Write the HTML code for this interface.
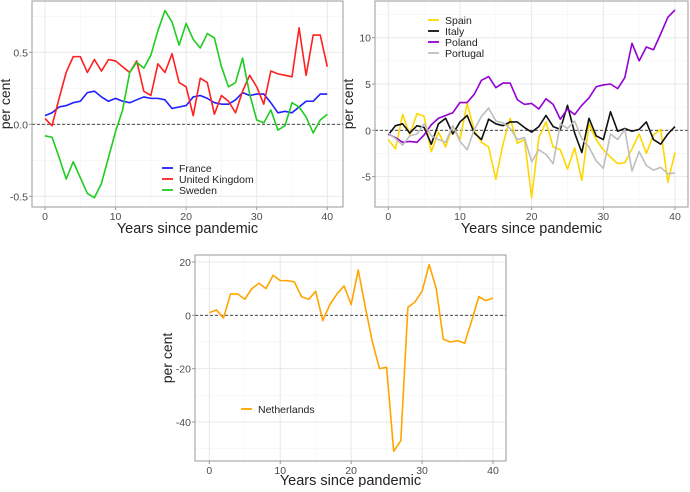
<!DOCTYPE html>
<html><head><meta charset="utf-8"><style>
body{margin:0;background:#fff;font-family:"Liberation Sans",sans-serif}
svg text{font-family:"Liberation Sans",sans-serif}
</style></head><body>
<svg id="s" width="690" height="487"></svg>
<script>
const years=[];for(let i=0;i<=40;i++)years.push(i);
const france=[0.06,0.08,0.12,0.13,0.15,0.16,0.22,0.23,0.19,0.16,0.18,0.16,0.15,0.17,0.19,0.18,0.18,0.17,0.11,0.12,0.13,0.19,0.20,0.18,0.15,0.14,0.14,0.17,0.22,0.20,0.21,0.21,0.15,0.08,0.09,0.08,0.12,0.16,0.16,0.21,0.21];
const uk=[0.04,-0.01,0.18,0.36,0.47,0.47,0.36,0.45,0.37,0.45,0.44,0.40,0.36,0.44,0.23,0.20,0.42,0.36,0.49,0.29,0.26,0.06,0.32,0.29,0.07,0.20,0.16,0.08,0.23,0.34,0.26,0.14,0.37,0.35,0.34,0.33,0.67,0.34,0.62,0.62,0.40];
const sweden=[-0.08,-0.09,-0.23,-0.38,-0.26,-0.37,-0.48,-0.51,-0.41,-0.23,-0.05,0.10,0.36,0.43,0.39,0.48,0.65,0.79,0.71,0.55,0.70,0.59,0.53,0.63,0.60,0.40,0.26,0.29,0.46,0.21,0.03,0.01,0.10,-0.04,-0.01,0.15,0.12,0.05,-0.06,0.03,0.07];
const spain=[-1.0,-2.0,1.7,-0.5,1.8,1.5,-2.3,-0.2,-1.8,0.5,-1.0,2.9,0.0,-1.3,-1.8,-5.3,-1.5,1.3,-1.4,-1.0,-7.3,-0.8,0.9,-1.8,-2.1,-4.2,-1.9,-5.4,0.7,-1.0,-2.1,-2.9,-3.6,-3.5,-2.0,-0.4,-2.5,-0.5,0.1,-5.6,-2.4];
const italy=[-0.5,0.5,0.7,-0.3,0.5,0.3,-1.5,0.7,1.3,-0.4,0.9,1.6,-0.3,-1.0,1.2,0.7,0.5,0.9,0.9,0.3,-0.2,0.4,1.6,0.4,0.1,2.7,-0.3,-2.4,1.3,-0.6,-1.0,2.0,-0.1,0.2,-0.1,0.1,0.9,-1.0,-1.5,-0.4,0.4];
const poland=[-0.4,-0.8,-1.3,-1.2,-1.3,-0.5,0.6,1.3,1.6,1.9,3.0,3.0,3.9,5.4,5.8,4.6,5.1,5.1,3.3,2.8,2.9,2.3,3.4,2.8,1.2,2.3,1.7,2.7,3.5,4.7,4.9,5.0,4.5,5.7,9.4,7.5,9.0,8.7,10.4,12.2,13.0];
const portugal=[-0.3,-0.9,-1.6,-0.6,-0.4,0.7,-0.6,-1.0,-1.3,0.5,-1.2,-2.1,0.1,1.5,2.4,1.0,0.8,0.2,-1.0,-0.8,-3.4,-2.1,-2.6,-3.6,0.7,0.2,1.0,-0.9,-1.8,-3.3,-4.1,-0.4,-1.0,0.1,-4.4,-2.3,-3.8,-4.3,-4.0,-4.7,-4.6];
const netherlands=[1,2,-1,8,8,6,10,12,10,15,13,13,12.5,7,6,9,-2,4,8,11,4,17,3,-10,-20,-19.5,-51,-47,3,5,9,19,10,-9,-10,-9.5,-10.5,-2,7,5.5,6.5];
const xTicks=[0,10,20,30,40];
const yTicks1=[-0.5,0,0.5], yTicks2=[-5,0,5,10], yTicks3=[-40,-20,0,20];

const NS="http://www.w3.org/2000/svg", svg=document.getElementById('s');
function mk(t,a,p){const e=document.createElementNS(NS,t);for(const k in a)e.setAttribute(k,a[k]);(p||svg).appendChild(e);return e;}

function panel(o){
  const g=mk('g',{});
  
  
  const X=v=>o.x0+(v-0)*(o.x40-o.x0)/40;
  const Y=v=>o.yA+(v-o.vA)*(o.yB-o.yA)/(o.vB-o.vA);
  for(let v=5;v<=40;v+=10)mk('line',{x1:X(v),x2:X(v),y1:o.top,y2:o.bot,stroke:'#f4f4f4','stroke-width':0.6},g);
  for(const v of o.minor)mk('line',{x1:o.left,x2:o.right,y1:Y(v),y2:Y(v),stroke:'#f4f4f4','stroke-width':0.6},g);
  for(const v of xTicks)mk('line',{x1:X(v),x2:X(v),y1:o.top,y2:o.bot,stroke:'#e8e8e8','stroke-width':1},g);
  for(const v of o.yt)mk('line',{x1:o.left,x2:o.right,y1:Y(v),y2:Y(v),stroke:'#e8e8e8','stroke-width':1},g);
  mk('line',{x1:o.left,x2:o.right,y1:Y(0),y2:Y(0),stroke:'#333','stroke-width':0.8,'stroke-dasharray':'3,2'},g);
  for(const s of o.series){
    const pl=mk('polyline',{points:s.d.map((v,i)=>X(years[i])+','+Y(v)).join(' '),fill:'none',stroke:s.c,'stroke-width':1.6,'stroke-linejoin':'round'},g);
    
    
  }
  mk('rect',{x:o.left,y:o.top,width:o.right-o.left,height:o.bot-o.top,fill:'none',stroke:'#999','stroke-width':1},g);
  for(const v of xTicks){
    mk('line',{x1:X(v),x2:X(v),y1:o.bot,y2:o.bot+3,stroke:'#999'},g);
    const t=mk('text',{x:X(v),y:o.bot+13,'text-anchor':'middle','font-size':10.5,fill:'#4d4d4d'},g);t.textContent=v;
  }
  for(const v of o.yt){
    mk('line',{x1:o.left-3,x2:o.left,y1:Y(v),y2:Y(v),stroke:'#999'},g);
    const t=mk('text',{x:o.left-4,y:Y(v)+4,'text-anchor':'end','font-size':10.5,fill:'#4d4d4d'},g);t.textContent=o.fmt(v);
  }
  const xt=mk('text',{x:(o.left+o.right)/2,y:o.bot+o.xty,'text-anchor':'middle','font-size':14.5,fill:'#222'},g);xt.textContent='Years since pandemic';
  
  const cy=(o.top+o.bot)/2;
  const yt=mk('text',{x:o.ylx,y:cy,'text-anchor':'middle','font-size':14,fill:'#222',transform:`rotate(-90 ${o.ylx} ${cy})`},g);yt.textContent='per cent';
  
  o.series.forEach((s,i)=>{
    const ly=o.ly+i*o.lstep;
    const le=mk('g',{},g);
    
    
    mk('line',{x1:o.lx,x2:o.lx+11,y1:ly,y2:ly,stroke:s.c,'stroke-width':1.8},le);
    const t=mk('text',{x:o.lx+17,y:ly+4,'font-size':10.5,fill:'#222'},le);t.textContent=s.n;
  });
}
panel({name:'panel-france-uk-sweden',left:32,right:343,top:1,bot:207,x0:45,x40:327.3,yA:124.3,vA:0,yB:52.3,vB:0.5,yt:yTicks1,minor:[-0.25,0.25,0.75],fmt:v=>v.toFixed(1),ylx:10,lx:162,ly:168,lstep:11,xty:26,
 series:[{n:'France',c:'#1f1fff',d:france},{n:'United Kingdom',c:'#ff1f1f',d:uk},{n:'Sweden',c:'#1fcc1f',d:sweden}]});
panel({name:'panel-spain-italy-poland-portugal',left:375,right:688,top:1,bot:207,x0:388.3,x40:675,yA:130.3,vA:0,yB:37.7,vB:10,yt:yTicks2,minor:[-7.5,-2.5,2.5,7.5,12.5],fmt:v=>v,ylx:353,lx:428,ly:20,lstep:11,xty:26,
 series:[{n:'Spain',c:'#ffd700',d:spain},{n:'Italy',c:'#111',d:italy},{n:'Poland',c:'#9400d3',d:poland},{n:'Portugal',c:'#bebebe',d:portugal}]});
panel({name:'panel-netherlands',left:195,right:506,top:255,bot:461,x0:209.3,x40:493,yA:315.3,vA:0,yB:422,vB:-40,yt:yTicks3,minor:[-50,-30,-10,10],fmt:v=>v,ylx:172,lx:241,ly:409,lstep:11,xty:24,
 series:[{n:'Netherlands',c:'#ffa500',d:netherlands}]});
</script>
</body></html>
